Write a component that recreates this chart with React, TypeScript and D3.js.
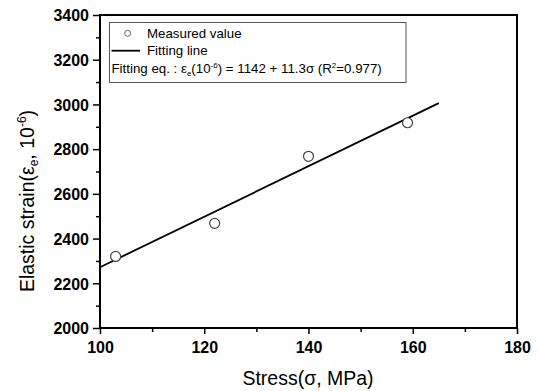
import * as d3 from "d3";
import React, { useEffect, useRef } from "react";

// measured points
const stress = [103, 122, 140, 159];
const strain = [2320, 2468, 2768, 2918];
// fitting line ends
const fitStress = [100, 165];
const fitStrain = [2272, 3006];

const xTicks = [100, 120, 140, 160, 180];
const yTicks = [2000, 2200, 2400, 2600, 2800, 3000, 3200, 3400];

const width = 539;
const height = 391;
const margin = { left: 100, right: 22, top: 15, bottom: 63 };
const font = "Arial, 'Liberation Sans', sans-serif";

export default function App() {
  const svgRef = useRef<SVGSVGElement>(null);

  useEffect(() => {
    const svg = d3.select(svgRef.current);
    svg.selectAll("*").remove();

    const plotW = width - margin.left - margin.right;
    const plotH = height - margin.top - margin.bottom;

    const x = d3.scaleLinear().domain([100, 180]).range([0, plotW]);
    const y = d3.scaleLinear().domain([2000, 3400]).range([plotH, 0]);

    const g = svg.append("g").attr("transform", `translate(${margin.left},${margin.top})`);

    // x axis
    g.append("g")
      .attr("transform", `translate(0,${plotH})`)
      .call(d3.axisBottom(x).tickValues(d3.range(110, 180, 20)).tickSize(4).tickFormat(() => ""))
      .call(a => a.select(".domain").remove());
    const xMajor = g.append("g").attr("transform", `translate(0,${plotH})`);
    xMajor
      .call(d3.axisBottom(x).tickValues(xTicks).tickSize(6).tickPadding(8).tickFormat(d3.format("d")))
      .call(a => a.select(".domain").remove());
    xMajor.selectAll("text").attr("font-size", 16).attr("font-weight", "bold").attr("font-family", font).attr("fill", "#000");

    // y axis
    g.append("g")
      .call(d3.axisLeft(y).tickValues(d3.range(2100, 3400, 200)).tickSize(4).tickFormat(() => ""))
      .call(a => a.select(".domain").remove());
    const yMajor = g.append("g");
    yMajor
      .call(d3.axisLeft(y).tickValues(yTicks).tickSize(7).tickPadding(4).tickFormat(d3.format("d")))
      .call(a => a.select(".domain").remove());
    yMajor.selectAll("text").attr("font-size", 16).attr("font-weight", "bold").attr("font-family", font).attr("fill", "#000").attr("dy", "0.36em");

    g.selectAll(".tick line").attr("stroke", "#000").attr("stroke-width", 1.5);

    // frame
    g.append("rect")
      .attr("width", plotW)
      .attr("height", plotH)
      .attr("fill", "none")
      .attr("stroke", "#000")
      .attr("stroke-width", 2);

    // fitting line
    const line = d3.line<number>().x(d => x(d)).y((d, i) => y(fitStrain[i]));
    g.append("path")
      .datum(fitStress)
      .attr("d", line)
      .attr("fill", "none")
      .attr("stroke", "#000")
      .attr("stroke-width", 1.8);

    // measured points
    g.selectAll(".pt")
      .data(stress)
      .join("circle")
      .attr("class", "pt")
      .attr("cx", d => x(d))
      .attr("cy", (d, i) => y(strain[i]))
      .attr("r", 5)
      .attr("fill", "#fff")
      .attr("stroke", "#444")
      .attr("stroke-width", 1.2);

    // legend
    const lg = svg.append("g").attr("font-family", font).attr("font-size", 13.3).attr("fill", "#000");
    lg.append("rect")
      .attr("x", 109.5)
      .attr("y", 22.5)
      .attr("width", 296.5)
      .attr("height", 60)
      .attr("fill", "#fff")
      .attr("stroke", "#555")
      .attr("stroke-width", 1);
    lg.append("circle").attr("cx", 127.7).attr("cy", 33.3).attr("r", 3).attr("fill", "none").attr("stroke", "#666");
    lg.append("text").attr("x", 147).attr("y", 38).text("Measured value");
    lg.append("line").attr("x1", 111.5).attr("x2", 140).attr("y1", 50.7).attr("y2", 50.7).attr("stroke", "#000").attr("stroke-width", 1.8);
    lg.append("text").attr("x", 147).attr("y", 55).text("Fitting line");
    const eq = lg.append("text").attr("x", 111.5).attr("y", 73);
    eq.append("tspan").text("Fitting eq. : ε");
    eq.append("tspan").attr("font-size", 8).attr("dy", 3).text("e");
    eq.append("tspan").attr("dy", -3).text("(10");
    eq.append("tspan").attr("font-size", 8).attr("dy", -5).text("-6");
    eq.append("tspan").attr("dy", 5).text(") = 1142 + 11.3σ (R");
    eq.append("tspan").attr("font-size", 8).attr("dy", -5).text("2");
    eq.append("tspan").attr("dy", 5).text("=0.977)");

    // axis titles
    svg.append("text")
      .attr("x", 308)
      .attr("y", 385)
      .attr("text-anchor", "middle")
      .attr("font-family", font)
      .attr("font-size", 19.5)
      .text("Stress(σ, MPa)");

    const yt = svg.append("text")
      .attr("transform", "translate(34,201) rotate(-90)")
      .attr("text-anchor", "middle")
      .attr("font-family", font)
      .attr("font-size", 19.5);
    yt.append("tspan").text("Elastic strain(ε");
    yt.append("tspan").attr("font-size", 12).attr("dy", 4).text("e");
    yt.append("tspan").attr("dy", -4).text(", 10");
    yt.append("tspan").attr("font-size", 12).attr("dy", -8).text("-6");
    yt.append("tspan").attr("dy", 8).text(")");
  }, []);

  return (
    <div style={{ position: "fixed", left: 0, top: 0 }}>
      <svg ref={svgRef} width={width} height={height} style={{ display: "block", background: "#fff" }} />
    </div>
  );
}
